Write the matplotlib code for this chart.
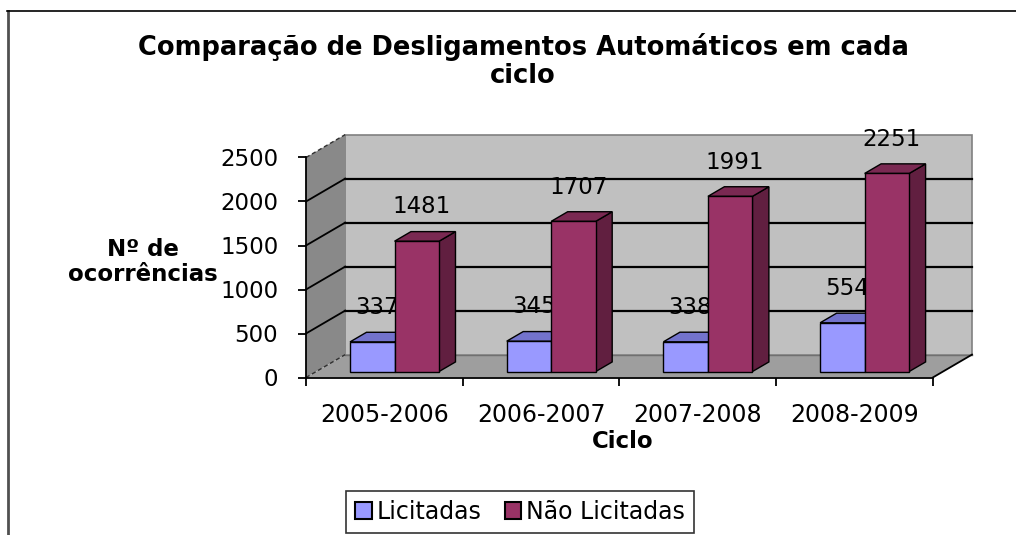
import matplotlib
matplotlib.use('Agg')
import matplotlib.pyplot as plt
from matplotlib.patches import Polygon, Patch
from matplotlib.lines import Line2D
import numpy as np

# ---- data ----
categories = ['2005-2006', '2006-2007', '2007-2008', '2008-2009']
licitadas = [337, 345, 338, 554]
nao_licitadas = [1481, 1707, 1991, 2251]
series_names = ['Licitadas', 'Não Licitadas']
y_ticks = [0, 500, 1000, 1500, 2000, 2500]
title = 'Comparação de Desligamentos Automáticos em cada\nciclo'
ylabel = 'Nº de\nocorrências'
xlabel = 'Ciclo'

# ---- style ----
front_cols = ['#9999FF', '#993366']
top_cols = ['#7373CC', '#7A2952']
side_cols = ['#5C5CA8', '#611F40']
W, H = 1016, 535
FS = 16.5

fig = plt.figure(figsize=(W / 100, H / 100), dpi=100)
fig.patch.set_facecolor('white')
ax = fig.add_axes([306 / W, (H - 377.5) / H, 626.8 / W, 220 / H])
n = len(categories)
ymax = y_ticks[-1]
ax.set_xlim(0, n)
ax.set_ylim(0, ymax)
ax.patch.set_visible(False)

DX, DY = 0.25, 260  # depth vector in data units


def poly(pts, z, **kw):
    ax.add_patch(Polygon(pts, closed=True, clip_on=False, zorder=z, **kw))


# walls and floor
poly([(DX, DY), (n + DX, DY), (n + DX, ymax + DY), (DX, ymax + DY)], 0.5,
     fc='#C0C0C0', ec='#808080', lw=1.2)
poly([(0, 0), (DX, DY), (DX, ymax + DY), (0, ymax)], 0.6,
     fc='#898989', ec='none')
poly([(0, 0), (n, 0), (n + DX, DY), (DX, DY)], 0.6,
     fc='#9E9E9E', ec='none')
ax.plot([DX, n + DX], [DY, DY], color='#707070', lw=1, clip_on=False, zorder=0.7)
ax.plot([n, n + DX], [0, DY], color='black', lw=1.3, clip_on=False, zorder=0.7)

for t in y_ticks:
    if t in (y_ticks[0], y_ticks[-1]):
        ax.plot([0, DX], [t, t + DY], color='#303030', lw=1, ls=(0, (3, 2)),
                clip_on=False, zorder=0.8)
    else:
        ax.plot([DX, n + DX], [t + DY, t + DY], color='black', lw=1.6,
                clip_on=False, zorder=0.8)
        ax.plot([0, DX], [t, t + DY], color='black', lw=1.3,
                clip_on=False, zorder=0.8)

# bars
bw = 0.284
margin = (1 - 2 * bw) / 2
f0, f1 = 0.26, 0.68
ddx, ddy = (f1 - f0) * DX, (f1 - f0) * DY
z = 2
for i in range(n):
    for j, vals in enumerate([licitadas, nao_licitadas]):
        v = vals[i]
        x0 = i + margin + j * bw + f0 * DX
        y0 = f0 * DY
        side = [(x0 + bw, y0), (x0 + bw + ddx, y0 + ddy),
                (x0 + bw + ddx, y0 + v + ddy), (x0 + bw, y0 + v)]
        top = [(x0, y0 + v), (x0 + bw, y0 + v),
               (x0 + bw + ddx, y0 + v + ddy), (x0 + ddx, y0 + v + ddy)]
        front = [(x0, y0), (x0 + bw, y0), (x0 + bw, y0 + v), (x0, y0 + v)]
        poly(side, z, fc=side_cols[j], ec='black', lw=1)
        poly(top, z + 0.1, fc=top_cols[j], ec='black', lw=1)
        poly(front, z + 0.2, fc=front_cols[j], ec='black', lw=1)
        ax.text(x0 + bw / 2 + 0.03, y0 + v + 390, str(v), ha='center',
                va='center', fontsize=FS, color='black', zorder=z + 0.3,
                clip_on=False)
        z += 1

# axes / ticks
for s in ['top', 'right']:
    ax.spines[s].set_visible(False)
ax.spines['left'].set_bounds(0, ymax)
ax.spines['bottom'].set_bounds(0, n)
for s in ['left', 'bottom']:
    ax.spines[s].set_linewidth(1.3)
    ax.spines[s].set_zorder(50)
ax.set_yticks(y_ticks)
ax.set_yticklabels([str(t) for t in y_ticks])
ax.tick_params(axis='y', direction='out', length=6, width=1.3, pad=14,
               labelsize=FS)
ax.set_xticks(np.arange(n + 1))
ax.set_xticklabels([''] * (n + 1))
ax.tick_params(axis='x', which='major', direction='out', length=6, width=1.3)
ax.set_xticks(np.arange(n) + 0.5, minor=True)
ax.set_xticklabels(categories, minor=True)
ax.tick_params(axis='x', which='minor', length=0, pad=18, labelsize=17)

# texts
fig.text(523 / W, 1 - 61 / H, title, ha='center', va='center',
         fontsize=18.5, fontweight='bold', linespacing=1.1,
         multialignment='center')
fig.text(143 / W, 1 - 262 / H, ylabel, ha='center', va='center',
         fontsize=FS, fontweight='bold', linespacing=1.09,
         multialignment='center')
fig.text(623 / W, 1 - 441 / H, xlabel, ha='center', va='center',
         fontsize=FS, fontweight='bold')

# legend
handles = [Patch(fc=front_cols[k], ec='black', lw=1.5) for k in range(2)]
leg = fig.legend(handles, series_names, loc='center',
                 bbox_to_anchor=(520 / W, 1 - 512 / H), ncol=2, fontsize=17,
                 frameon=True, fancybox=False, shadow=False,
                 handlelength=0.7, handleheight=0.7, handletextpad=0.2,
                 columnspacing=1.0, borderpad=0.4, borderaxespad=0)
leg.get_frame().set_edgecolor('black')
leg.get_frame().set_linewidth(1.2)

# outer chart border
fig.add_artist(Line2D([7.5 / W, 7.5 / W], [0, 1 - 11 / H], color='#505050',
                      lw=2, transform=fig.transFigure))
fig.add_artist(Line2D([7 / W, 1], [1 - 11 / H, 1 - 11 / H], color='black',
                      lw=1.2, transform=fig.transFigure))

fig.savefig('out.png', dpi=100)
